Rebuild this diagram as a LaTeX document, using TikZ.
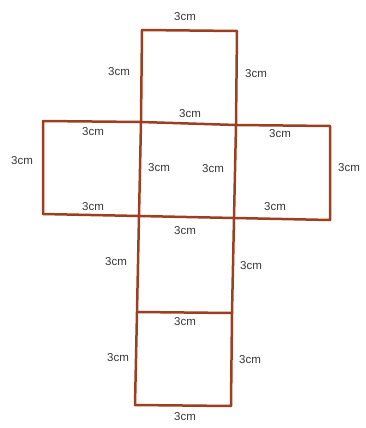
\documentclass[tikz,border=0pt]{standalone}
\usepackage{fontspec}
\setmainfont{Liberation Sans}
\definecolor{netbrown}{RGB}{158,62,32}
\definecolor{lblgray}{RGB}{55,55,55}
\tikzset{edge/.style={draw=netbrown,line width=2.5pt,line join=round,line cap=round}}
\tikzset{len/.style={text=lblgray,font=\fontsize{11.5}{13}\selectfont,inner sep=1pt}}

\begin{document}
\begin{tikzpicture}[x=1pt,y=-1pt]
    \useasboundingbox (0,0) rectangle (366,428);
    % corners of the net
    \coordinate (t1) at (142,30);
    \coordinate (t2) at (237,31);
    \coordinate (m1) at (43,121);
    \coordinate (m2) at (141,122);
    \coordinate (m3) at (236,125);
    \coordinate (m4) at (330,126);
    \coordinate (b1) at (43,214);
    \coordinate (b2) at (139,216);
    \coordinate (b3) at (234,218);
    \coordinate (b4) at (330,220);
    \coordinate (c1) at (137,312);
    \coordinate (c2) at (232,313);
    \coordinate (d1) at (135,405);
    \coordinate (d2) at (231,406);

    \path[edge] (t1) -- (t2) -- (m3);
    \path[edge] (t1) -- (m2);
    \path[edge] (m1) -- (m2) -- (m3) -- (m4) -- (b4) -- (b3) -- (b2) -- (b1) -- cycle;
    \path[edge] (m2) -- (b2) -- (c1) -- (d1) -- (d2) -- (c2) -- (b3) -- (m3);
    \path[edge] (c1) -- (c2);

    % side lengths
    \node[len] (l1) at (185,17) {3cm};
    \node[len] (l2) at (119,72) {3cm};
    \node[len] (l3) at (256,74) {3cm};
    \node[len] (l4) at (190,114) {3cm};
    \node[len] (l5) at (93,132) {3cm};
    \node[len] (l6) at (22,161) {3cm};
    \node[len] (l7) at (93,207) {3cm};
    \node[len] (l8) at (159,168) {3cm};
    \node[len] (l9) at (213,169) {3cm};
    \node[len] (l10) at (280,134) {3cm};
    \node[len] (l11) at (349,168) {3cm};
    \node[len] (l12) at (275,207) {3cm};
    \node[len] (l13) at (185,231) {3cm};
    \node[len] (l14) at (116,262) {3cm};
    \node[len] (l15) at (251,266) {3cm};
    \node[len] (l16) at (185,322) {3cm};
    \node[len] (l17) at (118,358) {3cm};
    \node[len] (l18) at (250,360) {3cm};
    \node[len] (l19) at (185,417) {3cm};
\end{tikzpicture}
\end{document}
